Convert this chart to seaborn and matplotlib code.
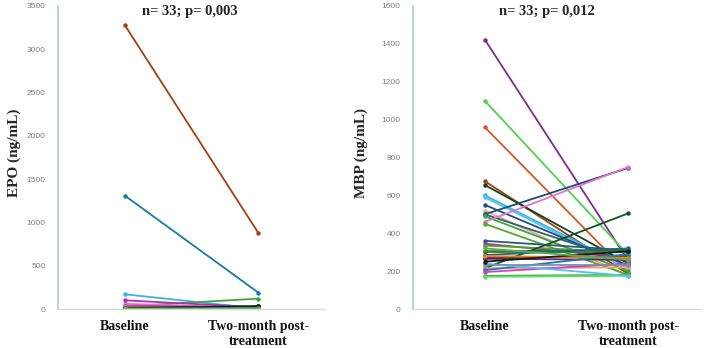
import numpy as np
import pandas as pd
import matplotlib
matplotlib.use("Agg")
import matplotlib.pyplot as plt
import seaborn as sns

categories = ["Baseline", "Two-month post-\ntreatment"]

colors = ["#7b2d8b", "#4fd04f", "#d9541e", "#a4400f", "#16431f", "#33b5e5",
          "#5bc0eb", "#1f4e79", "#f4a582", "#1c4f6e", "#2b5d7c", "#3ca63c",
          "#e072d6", "#4caf2a", "#245a80", "#b030b0", "#5aa02c", "#2e6b2e",
          "#4a7a2a", "#8b3a12", "#6b1f6b", "#15521f", "#f0a070", "#1a7aae",
          "#d040c0", "#3cb043", "#66dd66", "#1a6b80", "#4fc3f7", "#e67e22",
          "#7f8fa6", "#102018", "#52b152"]

epo_baseline = [20, 8, 12, 3280, 10, 170, 25, 15, 30, 10, 5, 30, 60, 18, 12, 100,
                22, 14, 9, 16, 11, 13, 20, 1310, 40, 8, 5, 12, 18, 22, 10, 15, 6]
epo_post = [10, 6, 8, 880, 30, 5, 12, 20, 15, 25, 8, 120, 15, 10, 18, 20,
            12, 25, 14, 10, 20, 30, 12, 190, 18, 9, 5, 15, 10, 12, 20, 30, 8]

mbp_baseline = [1423, 1100, 960, 675, 655, 600, 590, 550, 520, 500, 500, 490,
                460, 450, 360, 345, 335, 305, 300, 270, 265, 215, 215, 205,
                195, 175, 170, 285, 240, 280, 230, 250, 320]
mbp_post = [255, 285, 190, 185, 240, 220, 210, 230, 175, 745, 250, 200,
            750, 180, 310, 270, 300, 310, 300, 280, 260, 505, 220, 290,
            240, 180, 175, 320, 175, 270, 230, 305, 260]

titles = ["n= 33; p= 0,003", "n= 33; p= 0,012"]
ylabels = ["EPO (ng/mL)", "MBP (ng/mL)"]
yticks = [np.arange(0, 3501, 500), np.arange(0, 1601, 200)]

def long_df(b, p):
    n = len(b)
    return pd.DataFrame({
        "id": list(range(n)) * 2,
        "x": [0] * n + [1] * n,
        "value": list(b) + list(p),
    })

sns.set_style("white")
fig = plt.figure(figsize=(7.04, 3.48), dpi=100)
ax1 = fig.add_axes([58 / 704, 1 - 309 / 348, 267 / 704, 303 / 348])
ax2 = fig.add_axes([413 / 704, 1 - 309 / 348, 287 / 704, 303 / 348])

serif = "Liberation Serif"
datasets = [(epo_baseline, epo_post), (mbp_baseline, mbp_post)]
title_x = [190 / 704, 547 / 704]
ylabel_x = [14 / 704, 361 / 704]

for i, ax in enumerate([ax1, ax2]):
    b, p = datasets[i]
    df = long_df(b, p)
    pal = {k: colors[k] for k in range(len(b))}
    sns.lineplot(data=df, x="x", y="value", hue="id", palette=pal, marker="o",
                 markersize=3.2, markeredgewidth=0, linewidth=1.3, legend=False,
                 ax=ax, estimator=None, sort=False)
    ax.set_xlim(-0.5, 1.5)
    ax.set_ylim(0, yticks[i][-1])
    ax.set_yticks(yticks[i])
    ax.set_yticklabels([str(v) for v in yticks[i]], color="#7f7f7f",
                       fontsize=6, family="Liberation Sans")
    ax.set_xticks([0, 1])
    ax.set_xticklabels(categories, fontsize=10, fontweight="bold", family=serif,
                       color="#111111")
    ax.tick_params(axis="y", length=0, pad=9)
    ax.tick_params(axis="x", length=0, pad=8)
    ax.set_xlabel("")
    ax.set_ylabel("")
    for s in ["top", "right"]:
        ax.spines[s].set_visible(False)
    ax.spines["left"].set_color("#a9c9d9")
    ax.spines["left"].set_linewidth(1.2)
    ax.spines["bottom"].set_color("#d9d9d9")
    ax.spines["bottom"].set_linewidth(1.0)
    fig.text(title_x[i], 1 - 12 / 348, titles[i], ha="center", va="center",
             fontsize=10.5, fontweight="bold", family=serif)
    fig.text(ylabel_x[i], 1 - 153 / 348, ylabels[i], ha="center", va="center",
             rotation=90, fontsize=11, fontweight="bold", family=serif)

fig.savefig("out.png", dpi=100)
